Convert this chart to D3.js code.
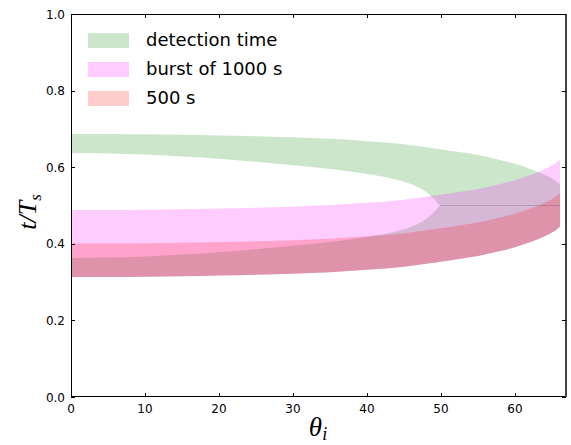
<!DOCTYPE html>
<html><head><meta charset="utf-8">
<script src="https://cdn.jsdelivr.net/npm/d3@7"></script>
<style>body{margin:0;background:#fff}svg{display:block}</style>
</head><body>
<svg id="chart" width="571" height="445"></svg>
<script>
// inclination angle samples (degrees)
const theta = [0,5,10,15,20,25,30,35,40,43,45,47,48,48.5,49,49.4,49.7,49.9,52,55,58,60,62,63.5,64.5,65.3,65.8,66.1];
// detection time, upper branch (outer and inner edges)
const detUpperTop    = [0.687,0.687,0.686,0.685,0.683,0.681,0.678,0.674,0.668,0.664,0.660,0.6548,0.6522,0.6509,0.6496,0.6485,0.6477,0.6471,0.641,0.632,0.619,0.609,0.596,0.585,0.576,0.567,0.560,0.555];
const detUpperBottom = [0.637,0.636,0.633,0.628,0.622,0.614,0.605,0.595,0.582,0.572,0.562,0.547,0.535,0.527,0.518,0.510,0.503,0.500,0.500,0.500,0.500,0.500,0.500,0.500,0.500,0.500,0.500,0.500];
// detection time, lower branch
const detLowerTop    = [0.363,0.364,0.367,0.372,0.378,0.386,0.395,0.405,0.418,0.428,0.438,0.453,0.465,0.473,0.482,0.490,0.497,0.500,0.500,0.500,0.500,0.500,0.500,0.500,0.500,0.500,0.500,0.500];
const detLowerBottom = [0.313,0.313,0.314,0.315,0.317,0.319,0.322,0.326,0.332,0.336,0.340,0.3452,0.3478,0.3491,0.3504,0.3515,0.3523,0.3529,0.359,0.368,0.381,0.391,0.404,0.415,0.424,0.433,0.440,0.445];
// burst bands (start = detLowerBottom)
const burst1000Top   = [0.488,0.488,0.489,0.490,0.492,0.494,0.497,0.501,0.507,0.511,0.515,0.5202,0.5228,0.5241,0.5254,0.5265,0.5273,0.5279,0.534,0.543,0.556,0.566,0.579,0.590,0.599,0.608,0.615,0.620];
const burst500Top    = [0.4005,0.4005,0.4015,0.4025,0.4045,0.4065,0.4095,0.4135,0.4195,0.4235,0.4275,0.4327,0.4353,0.4366,0.4379,0.439,0.4398,0.4404,0.4465,0.4555,0.4685,0.4785,0.4915,0.5025,0.5115,0.5205,0.5275,0.5325];

const legendLabels = ["detection time","burst of 1000 s","500 s"];
const colors = ["#008000","#ff00ff","#ff0000"];
const xTicks = [0,10,20,30,40,50,60];
const yTicks = [0,0.2,0.4,0.6,0.8,1.0];

const W=571,H=445, L=71, R=566, T=14, B=397;
const svg = d3.select("#chart");
const x = d3.scaleLinear().domain([0,66.9]).range([L,R]);
const y = d3.scaleLinear().domain([0,1]).range([B,T]);

svg.append("defs").append("clipPath").attr("id","clip")
  .append("rect").attr("x",L).attr("y",T).attr("width",R-L).attr("height",B-T);
const g = svg.append("g").attr("clip-path","url(#clip)");

function band(lo, hi){
  return d3.area().x((d,i)=>x(theta[i])).y0((d,i)=>y(lo[i])).y1((d,i)=>y(hi[i]))
    .curve(d3.curveMonotoneX)(theta);
}
const bands = [
  [detUpperBottom, detUpperTop, 0],
  [detLowerBottom, detLowerTop, 0],
  [detLowerBottom, burst1000Top, 1],
  [detLowerBottom, burst500Top, 2]
];
bands.forEach(([lo,hi,c])=>{
  g.append("path").attr("d",band(lo,hi)).attr("fill",colors[c]).attr("fill-opacity",0.2);
});
// seam where the two detection branches meet
const seamIdx = theta.map((t,i)=>i).filter(i=>detUpperBottom[i]<=0.5);
g.append("path").attr("d", d3.line().x(i=>x(theta[i])).y(i=>y(detUpperBottom[i]))(seamIdx))
  .attr("fill","none").attr("stroke","#555").attr("stroke-opacity",0.3).attr("stroke-width",1);

// frame
svg.append("rect").attr("x",L+0.5).attr("y",T+0.5).attr("width",R-L-1).attr("height",B-T-1)
  .attr("fill","none").attr("stroke","#000").attr("stroke-width",1);
svg.append("line").attr("x1",R).attr("x2",R).attr("y1",T).attr("y2",B)
  .attr("stroke","#444").attr("stroke-width",2);

// ticks (inward, all sides)
const tk = svg.append("g").attr("stroke","#000").attr("stroke-width",1);
xTicks.forEach(v=>{
  const px=Math.round(x(v))+0.5;
  tk.append("line").attr("x1",px).attr("x2",px).attr("y1",B).attr("y2",B-4);
  tk.append("line").attr("x1",px).attr("x2",px).attr("y1",T).attr("y2",T+4);
});
yTicks.forEach(v=>{
  const py=Math.round(y(v))+0.5;
  tk.append("line").attr("x1",L).attr("x2",L+4).attr("y1",py).attr("y2",py);
  tk.append("line").attr("x1",R).attr("x2",R-4).attr("y1",py).attr("y2",py);
});
const lab = svg.append("g").attr("font-family","DejaVu Sans").attr("font-size",12).attr("fill","#000");
xTicks.forEach(v=>{
  lab.append("text").attr("x",x(v)).attr("y",B+16).attr("text-anchor","middle").text(v);
});
yTicks.forEach(v=>{
  lab.append("text").attr("x",L-6).attr("y",y(v)+4.5).attr("text-anchor","end").text(d3.format(".1f")(v));
});

// axis labels
const xl = svg.append("text").attr("x",318).attr("y",436).attr("text-anchor","middle")
  .attr("font-family","Liberation Serif").attr("font-style","italic").attr("font-size",27);
xl.append("tspan").text("θ");
xl.append("tspan").attr("font-size",18).attr("dy",4).text("i");

const yl = svg.append("text").attr("transform","translate(36,212) rotate(-90)").attr("text-anchor","middle")
  .attr("font-family","Liberation Serif").attr("font-style","italic").attr("font-size",26);
yl.append("tspan").text("t/T");
yl.append("tspan").attr("font-size",17).attr("dy",5).text("s");

// legend
const lg = svg.append("g");
legendLabels.forEach((s,i)=>{
  const yy = 33 + i*29;
  lg.append("rect").attr("x",88).attr("y",yy).attr("width",41).attr("height",15)
    .attr("fill",colors[i]).attr("fill-opacity",0.2);
  lg.append("text").attr("x",146).attr("y",yy+13).attr("font-family","DejaVu Sans")
    .attr("font-size",18).text(s);
});
</script>
</body></html>
